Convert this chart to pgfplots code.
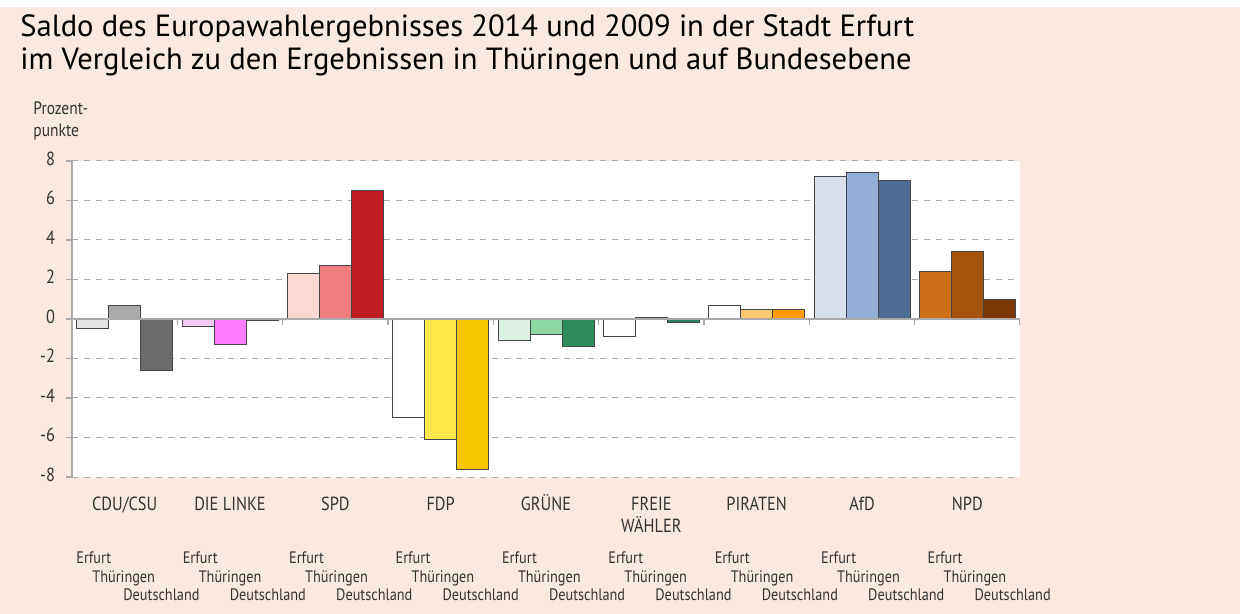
\documentclass[border=0pt]{standalone}
\usepackage{fontspec}
\setmainfont{PT Sans}
\newfontfamily\cond[FakeStretch=0.86]{PT Sans}
\usepackage{pgfplots}
\pgfplotsset{compat=1.18}

\definecolor{bgpink}{RGB}{250,233,224}
\definecolor{edge}{RGB}{70,70,70}
\definecolor{gridc}{RGB}{170,170,170}
% CDU/CSU
\definecolor{cduE}{HTML}{E4E4E4}\definecolor{cduT}{HTML}{AAAAAA}\definecolor{cduD}{HTML}{6B6B6B}
% DIE LINKE
\definecolor{lkE}{HTML}{F6C9F2}\definecolor{lkT}{HTML}{FF7BFF}\definecolor{lkD}{HTML}{B0238F}
% SPD
\definecolor{spdE}{HTML}{FCD8D4}\definecolor{spdT}{HTML}{F07C7C}\definecolor{spdD}{HTML}{BF1E24}
% FDP
\definecolor{fdpE}{HTML}{FFFFFF}\definecolor{fdpT}{HTML}{FFE84C}\definecolor{fdpD}{HTML}{F6C700}
% GRUENE
\definecolor{grE}{HTML}{DCF2E4}\definecolor{grT}{HTML}{8ED8A6}\definecolor{grD}{HTML}{2E8B5A}
% FREIE WAEHLER
\definecolor{fwE}{HTML}{FFFFFF}\definecolor{fwT}{HTML}{F4FBF7}\definecolor{fwD}{HTML}{2F7F63}
% PIRATEN
\definecolor{piE}{HTML}{FFFFFF}\definecolor{piT}{HTML}{FFC86E}\definecolor{piD}{HTML}{FF9A00}
% AfD
\definecolor{afdE}{HTML}{D7DFEA}\definecolor{afdT}{HTML}{93AFD7}\definecolor{afdD}{HTML}{4D6D95}
% NPD
\definecolor{npdE}{HTML}{CC6F16}\definecolor{npdT}{HTML}{A6540C}\definecolor{npdD}{HTML}{7C3604}

\pgfplotsset{
  erf/.style={fill=#1, draw=edge, line width=0.5pt, bar shift=-16pt},
  thu/.style={fill=#1, draw=edge, line width=0.5pt, bar shift=0pt},
  deu/.style={fill=#1, draw=edge, line width=0.5pt, bar shift=16pt},
}

\begin{document}
\begin{tikzpicture}
% page: 1 px of the reference = 0.5pt
\fill[bgpink] (0,0) rectangle (620pt,-307pt);
\fill[white] (0,0) rectangle (620pt,-3.5pt);
\useasboundingbox (0,0) rectangle (620pt,-307pt);

\node[anchor=base west, inner sep=0, font=\fontsize{15.3}{18}\selectfont] at (10pt,-18.5pt)
  {Saldo des Europawahlergebnisses 2014 und 2009 in der Stadt Erfurt};
\node[anchor=base west, inner sep=0, font=\fontsize{15.3}{18}\selectfont] at (10pt,-35pt)
  {im Vergleich zu den Ergebnissen in Thüringen und auf Bundesebene};

\node[anchor=base west, inner sep=0, font=\cond\fontsize{9}{11}\selectfont, text=black!80] at (16.5pt,-57.5pt) {Prozent-};
\node[anchor=base west, inner sep=0, font=\cond\fontsize{9}{11}\selectfont, text=black!80] at (16.5pt,-68.5pt) {punkte};

\begin{axis}[
  at={(36pt,-238.5pt)}, anchor=south west,
  scale only axis, width=474pt, height=158pt,
  xmin=-0.5, xmax=8.5, ymin=-8, ymax=8,
  ybar, bar width=16pt,
  axis lines*=left,
  x axis line style={draw=none},
  y axis line style={draw=gridc, line width=0.6pt},
  axis background/.style={fill=white},
  ytick={-8,-6,...,8},
  xtick={0,...,8},
  xticklabels={CDU/CSU, DIE LINKE, SPD, FDP, GR\smash{Ü}NE, {FREIE\\[-1.5pt]WÄHLER}, PIRATEN, AfD, NPD},
  typeset ticklabels with strut,
  xtick style={draw=none},
  ytick style={draw=gridc, line width=0.6pt},
  tick align=outside, major tick length=3pt,
  ymajorgrids, grid style={dashed, gridc, line width=0.5pt},
  /pgf/number format/assume math mode=true,
  yticklabel style={font=\cond\fontsize{9.5}{11}\selectfont, text=black!80, xshift=-2pt},
  xticklabel style={font=\cond\fontsize{9.5}{11}\selectfont, text=black!80, align=center, yshift=-2.5pt},
]
% Erfurt / Thueringen / Deutschland, Saldo 2014-2009 in Prozentpunkten
\addplot[erf=cduE] coordinates {(0,-0.5)};
\addplot[thu=cduT] coordinates {(0,0.7)};
\addplot[deu=cduD] coordinates {(0,-2.6)};

\addplot[erf=lkE] coordinates {(1,-0.4)};
\addplot[thu=lkT] coordinates {(1,-1.3)};
\addplot[deu=lkD] coordinates {(1,-0.1)};

\addplot[erf=spdE] coordinates {(2,2.3)};
\addplot[thu=spdT] coordinates {(2,2.7)};
\addplot[deu=spdD] coordinates {(2,6.5)};

\addplot[erf=fdpE] coordinates {(3,-5.0)};
\addplot[thu=fdpT] coordinates {(3,-6.1)};
\addplot[deu=fdpD] coordinates {(3,-7.6)};

\addplot[erf=grE] coordinates {(4,-1.1)};
\addplot[thu=grT] coordinates {(4,-0.8)};
\addplot[deu=grD] coordinates {(4,-1.4)};

\addplot[erf=fwE] coordinates {(5,-0.9)};
\addplot[thu=fwT] coordinates {(5,0.1)};
\addplot[deu=fwD] coordinates {(5,-0.2)};

\addplot[erf=piE] coordinates {(6,0.7)};
\addplot[thu=piT] coordinates {(6,0.5)};
\addplot[deu=piD] coordinates {(6,0.5)};

\addplot[erf=afdE] coordinates {(7,7.2)};
\addplot[thu=afdT] coordinates {(7,7.4)};
\addplot[deu=afdD] coordinates {(7,7.0)};

\addplot[erf=npdE] coordinates {(8,2.4)};
\addplot[thu=npdT] coordinates {(8,3.4)};
\addplot[deu=npdD] coordinates {(8,1.0)};

\draw[gridc, line width=0.6pt] (axis cs:-0.5,0) -- (axis cs:8.5,0);
\pgfplotsinvokeforeach{0.5,1.5,2.5,3.5,4.5,5.5,6.5,7.5,8.5}{
  \draw[gridc, line width=0.6pt] (axis cs:#1,0) -- (axis cs:#1,-0.3);
}
\end{axis}

\foreach \i in {0,...,8} {
  \pgfmathsetmacro\xx{(76+\i*106.4)*0.5}
  \node[anchor=base west, inner sep=0, font=\cond\fontsize{8.3}{10}\selectfont, text=black!80] at (\xx pt,-281.5pt) {Erfurt};
  \node[anchor=base west, inner sep=0, font=\cond\fontsize{8.3}{10}\selectfont, text=black!80] at (\xx pt+8pt,-291pt) {Thüringen};
  \node[anchor=base west, inner sep=0, font=\cond\fontsize{8.3}{10}\selectfont, text=black!80] at (\xx pt+23.5pt,-300pt) {Deutschland};
}
\end{tikzpicture}
\end{document}
